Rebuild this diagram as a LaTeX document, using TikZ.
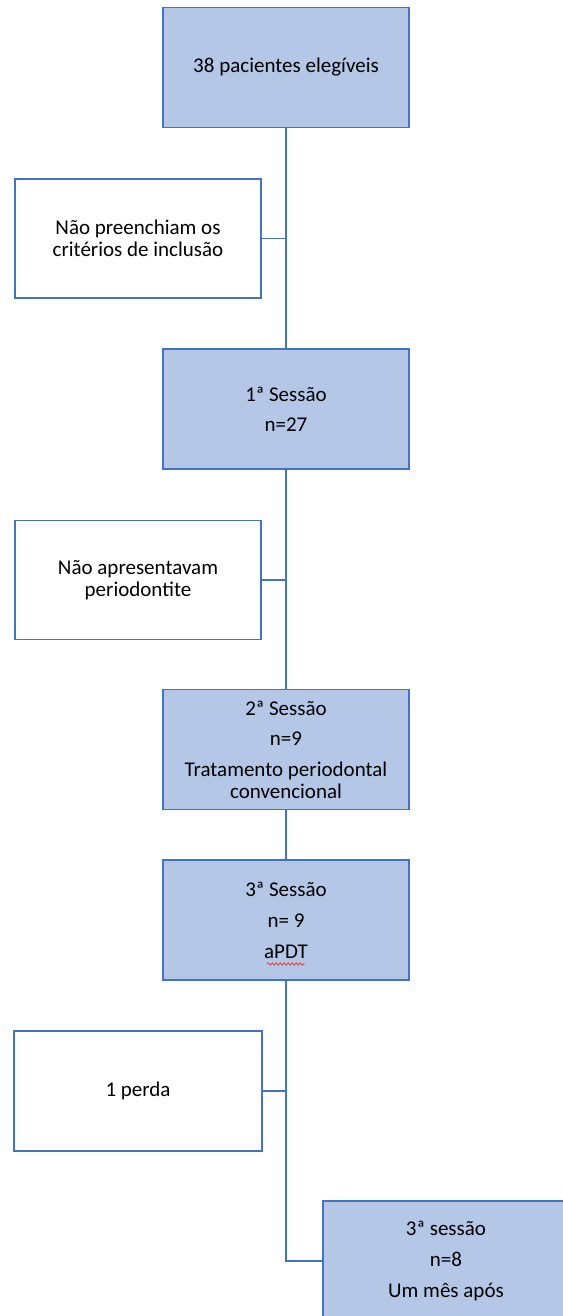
\documentclass[tikz,border=0pt]{standalone}
\usepackage{fontspec}
\setmainfont{Carlito}
\usetikzlibrary{decorations.pathmorphing}
\definecolor{boxline}{HTML}{4472C4}
\definecolor{boxfill}{HTML}{B4C7E7}
\definecolor{wavyred}{HTML}{E8403A}
\begin{document}
\begin{tikzpicture}[x=1pt,y=-1pt]
\tikzstyle{every node}=[font=\fontsize{21}{22}\selectfont, align=center]
\tikzstyle{stage}=[draw=boxline, line width=1.2pt, fill=boxfill, rectangle, inner sep=0pt, minimum width=246pt, minimum height=120pt]
\tikzstyle{excluded}=[draw=boxline, line width=1.2pt, fill=white, rectangle, inner sep=0pt, minimum width=246pt, minimum height=119pt]
\tikzstyle{link}=[draw=boxline, line width=1.2pt]
\tikzstyle{trunk}=[draw=boxline, line width=2.4pt]

\useasboundingbox (0,0) rectangle (562,1316);

\node[stage]    (E)  at (286,  67.5) {38 pacientes elegíveis};
\node[excluded] (N1) at (138, 238.5) {Não preenchiam os\\critérios de inclusão};
\node[stage]    (S1) at (286, 409)   {1ª Sessão\\[8pt]n=27};
\node[excluded] (N2) at (138, 580)   {Não apresentavam\\periodontite};
\node[stage]    (S2) at (286, 749.5) {2ª Sessão\\[8pt]n=9\\[9pt]Tratamento periodontal\\convencional};
\node[stage]    (S3) at (286, 920)   {3ª Sessão\\[9pt]n= 9\\[9pt]aPDT};
\node[excluded, minimum width=248pt, minimum height=120pt] (P) at (138, 1091) {1 perda};
\node[stage]    (S4) at (446, 1261)  {3ª sessão\\[9pt]n=8\\[9pt]Um mês após};

\draw[link] (E) -- (S1);
\draw[trunk] (E.south) -- (E.south |- N1.east);
\draw[link] (N1.east) -- (E.south |- N1.east);
\draw[link] (S1) -- (S2);
\draw[trunk] (S1.south) -- (S1.south |- N2.east);
\draw[link] (N2.east) -- (S1.south |- N2.east);
\draw[link] (S2) -- (S3);
\draw[link] (S3.south) |- (S4.west);
\draw[link] (P.east) -- (S3.south |- P.east);
\draw[wavyred, line width=0.8pt, decorate, decoration={snake, amplitude=1.2pt, segment length=4pt}] ([shift={(-19,44)}]S3.center) -- ++(38,0);
\end{tikzpicture}
\end{document}
